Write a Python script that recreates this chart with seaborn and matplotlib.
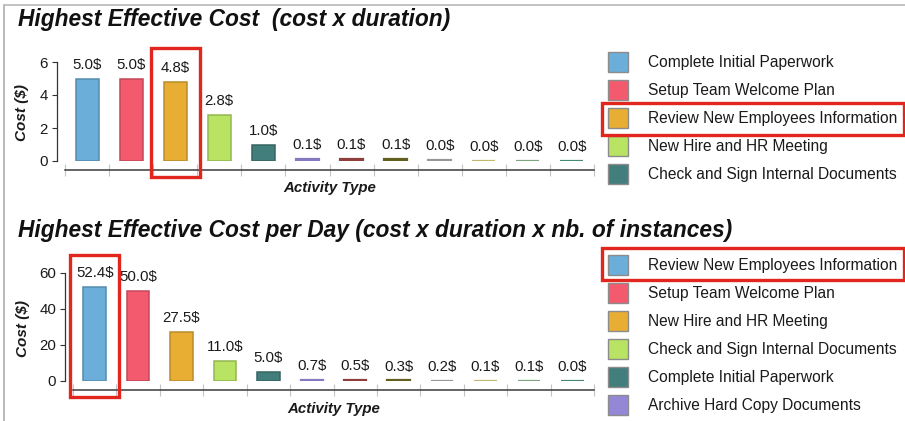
import matplotlib
matplotlib.use("Agg")
import matplotlib.pyplot as plt
import matplotlib.colors as mcolors
from matplotlib.patches import Rectangle
from matplotlib.lines import Line2D
import numpy as np
import pandas as pd
import seaborn as sns

# ---- data -------------------------------------------------------------
cost_labels = ["1", "2", "3", "4", "5", "6", "7", "8", "9", "10", "11", "12"]
effective_cost = [5.0, 5.0, 4.8, 2.8, 1.0, 0.1, 0.1, 0.1, 0.04, 0.03, 0.03, 0.02]
effective_cost_day = [52.4, 50.0, 27.5, 11.0, 5.0, 0.7, 0.5, 0.3, 0.2, 0.1, 0.1, 0.04]

legend_top = ["Complete Initial Paperwork", "Setup Team Welcome Plan",
              "Review New Employees Information", "New Hire and HR Meeting",
              "Check and Sign Internal Documents"]
legend_bottom = ["Review New Employees Information", "Setup Team Welcome Plan",
                 "New Hire and HR Meeting", "Check and Sign Internal Documents",
                 "Complete Initial Paperwork", "Archive Hard Copy Documents"]

yticks_top = [0, 2, 4, 6]
yticks_bottom = [0, 20, 40, 60]

title_top = "Highest Effective Cost  (cost x duration)"
title_bottom = "Highest Effective Cost per Day (cost x duration x nb. of instances)"

palette = ["#6aaed9", "#f45a6e", "#e8ae33", "#b8e363", "#427f7c", "#9488d6",
           "#a04444", "#6e6a24", "#a8a8a8", "#d6cf7a", "#8cb88c", "#4b9c7c"]

# ---- style ------------------------------------------------------------
sns.set_theme(style="white")
plt.rcParams["font.family"] = ["Liberation Sans", "DejaVu Sans"]

W, H = 905, 421
fig = plt.figure(figsize=(W / 100, H / 100), dpi=100)


def fx(px):
    return px / W


def fy(py):
    return 1 - py / H


def darker(c, f=0.8):
    r, g, b = mcolors.to_rgb(c)
    return (r * f, g * f, b * f)


RED = "#e1271d"
TXT = "#1a1a1a"


def draw_panel(ax, values, yticks, ylabel_xy, xlabel_y):
    df = pd.DataFrame({"rank": cost_labels, "cost": values})
    sns.barplot(data=df, x="rank", y="cost", hue="rank", order=cost_labels,
                hue_order=cost_labels, palette=palette, saturation=1, legend=False,
                dodge=False, width=0.52, errorbar=None, ax=ax)
    top = yticks[-1]
    for patch, col, v in zip(ax.patches, palette, values):
        # near-zero bars read as a short coloured stroke
        thin = v < 0.03 * top
        patch.set_edgecolor(darker(col, 0.9 if thin else 0.8))
        patch.set_linewidth(1.6 if thin else 1.1)
    for i, v in enumerate(values):
        ax.annotate(f"{v:.1f}$", (i, v), xytext=(0, 5), textcoords="offset points",
                    ha="center", va="bottom", fontsize=10.8, color=TXT)

    ax.set_xlim(-0.5, len(values) - 0.5)
    ax.set_ylim(0, top)
    ax.set_yticks(yticks)
    ax.set_xticks([])
    ax.set_xticks(np.arange(-0.5, len(values), 1), minor=True)
    ax.tick_params(axis="x", which="minor", direction="inout", length=8.5,
                   width=0.8, color="#c4c4c4", labelbottom=False, bottom=True)
    ax.tick_params(axis="y", direction="out", length=3.6, width=0.8,
                   color="#333333", pad=3, labelsize=10.8, labelcolor=TXT, left=True)

    for s in ("top", "right"):
        ax.spines[s].set_visible(False)
    ax.spines["left"].set_position(("outward", 5.6))
    ax.spines["left"].set_bounds(yticks[0], yticks[-1])
    ax.spines["left"].set_color("#333333")
    ax.spines["left"].set_linewidth(0.9)
    ax.spines["bottom"].set_position(("outward", 6.3))
    ax.spines["bottom"].set_color("#3a3a3a")
    ax.spines["bottom"].set_linewidth(1.1)
    ax.set_facecolor("none")
    ax.grid(False)

    ax.set_ylabel("Cost ($)", fontsize=11, fontweight="bold", style="italic", color=TXT)
    ax.yaxis.set_label_coords(*ylabel_xy)
    ax.yaxis.label.set_va("center")
    ax.set_xlabel("Activity Type", fontsize=10.8, fontweight="bold", style="italic", color=TXT)
    ax.xaxis.set_label_coords(0.5, xlabel_y)
    ax.xaxis.label.set_va("center")


def highlight_bar(ax, idx, value, half=0.56, above=34, below=16):
    """Red frame around one bar: half-width in category units, padding in pixels."""
    fig.canvas.draw()
    x0, y0 = ax.transData.transform((idx - half, 0))
    x1, y1 = ax.transData.transform((idx + half, value))
    inv = fig.transFigure.inverted()
    (fx0, fy0), (fx1, fy1) = inv.transform([(x0, y0 - below), (x1, y1 + above)])
    fig.add_artist(Rectangle((fx0, fy0), fx1 - fx0, fy1 - fy0, transform=fig.transFigure,
                             fill=False, edgecolor=RED, linewidth=2.4, zorder=10))


def add_legend(names, top_px, row=28, sw=20):
    for i, name in enumerate(names):
        y = top_px + i * row
        fig.add_artist(Rectangle((fx(608), fy(y + sw)), sw / W, sw / H,
                                 transform=fig.transFigure, facecolor=palette[i],
                                 edgecolor="#8c8c8c", linewidth=1.0))
        fig.text(fx(648), fy(y + sw / 2 + 0.5), name, fontsize=11.2, color=TXT,
                 ha="left", va="center")


def legend_box(top_px, bottom_px):
    fig.add_artist(Rectangle((fx(602), fy(bottom_px)), fx(904) - fx(602),
                             fy(top_px) - fy(bottom_px), transform=fig.transFigure,
                             fill=False, edgecolor=RED, linewidth=2.4, zorder=10))


# ---- top panel ----
ax1 = fig.add_axes([fx(65), fy(161), fx(594) - fx(65), (161 - 62) / H])
draw_panel(ax1, effective_cost, yticks_top, (-0.082, 0.49), -0.27)
fig.text(fx(18), fy(26), title_top, fontsize=16.4, fontweight="bold", style="italic",
         color="#111111", ha="left", va="baseline")
add_legend(legend_top, 52)

# ---- bottom panel ----
ax2 = fig.add_axes([fx(73), fy(381), fx(594) - fx(73), (381 - 273) / H])
draw_panel(ax2, effective_cost_day, yticks_bottom, (-0.096, 0.49), -0.26)
fig.text(fx(18), fy(237), title_bottom, fontsize=16.4, fontweight="bold", style="italic",
         color="#111111", ha="left", va="baseline")
add_legend(legend_bottom, 255)

# ---- window frame ----
fig.add_artist(Line2D([fx(4), fx(4)], [0, fy(5)], transform=fig.transFigure,
                      color="#b4b4b4", linewidth=1.3))
fig.add_artist(Line2D([fx(4), 1], [fy(5), fy(5)], transform=fig.transFigure,
                      color="#bdbdbd", linewidth=1.3))

# ---- highlights ----
highlight_bar(ax1, 2, effective_cost[2])
highlight_bar(ax2, 0, effective_cost_day[0], above=32)
legend_box(103, 135)
legend_box(248, 280)

fig.savefig("out.png", dpi=100, facecolor="white")
